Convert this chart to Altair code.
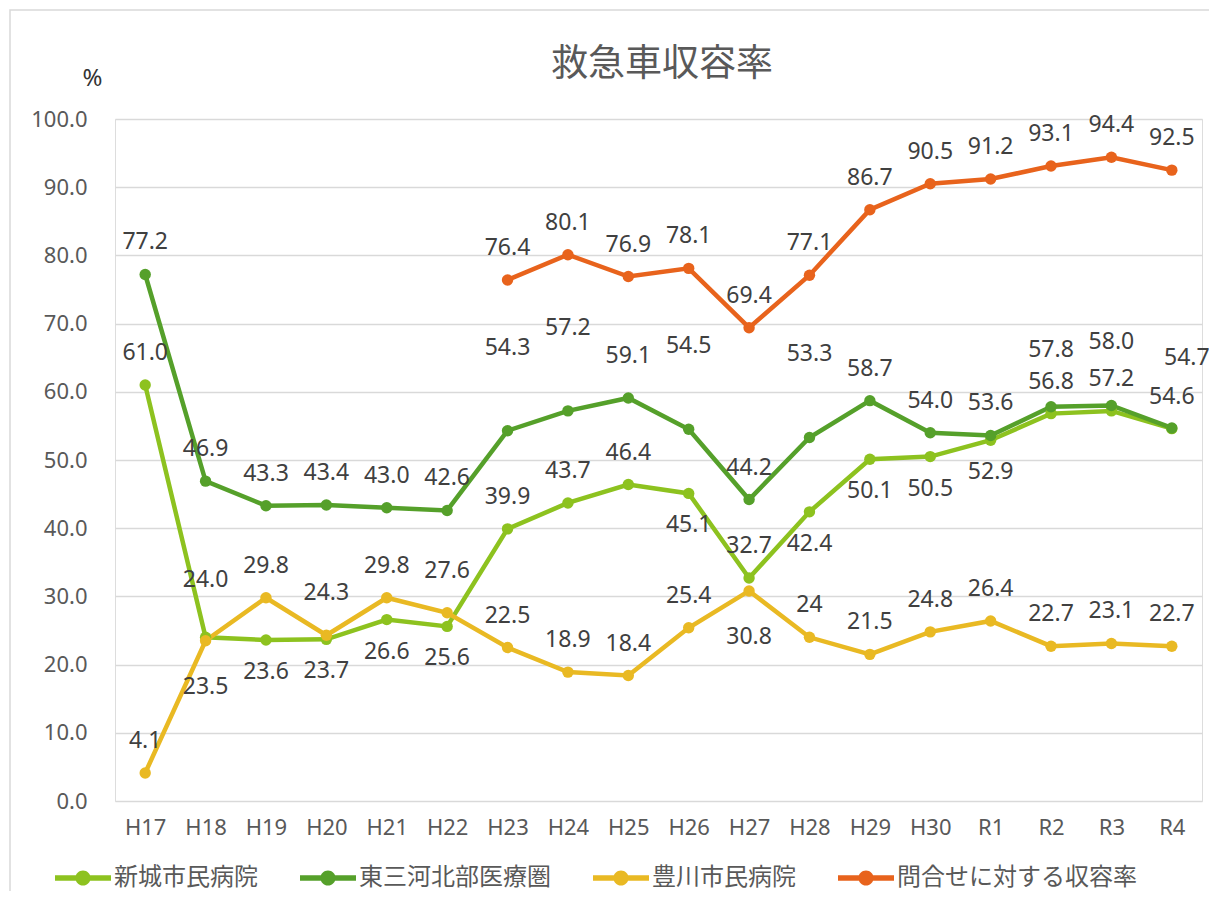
import altair as alt
import pandas as pd

categories = ["H17", "H18", "H19", "H20", "H21", "H22", "H23", "H24", "H25",
              "H26", "H27", "H28", "H29", "H30", "R1", "R2", "R3", "R4"]

series_names = ["新城市民病院", "東三河北部医療圏", "豊川市民病院", "問合せに対する収容率"]

shinshiro = [61.0, 24.0, 23.6, 23.7, 26.6, 25.6, 39.9, 43.7, 46.4,
             45.1, 32.7, 42.4, 50.1, 50.5, 52.9, 56.8, 57.2, 54.6]
higashi_mikawa = [77.2, 46.9, 43.3, 43.4, 43.0, 42.6, 54.3, 57.2, 59.1,
                  54.5, 44.2, 53.3, 58.7, 54.0, 53.6, 57.8, 58.0, 54.7]
toyokawa = [4.1, 23.5, 29.8, 24.3, 29.8, 27.6, 22.5, 18.9, 18.4,
            25.4, 30.8, 24.0, 21.5, 24.8, 26.4, 22.7, 23.1, 22.7]
inquiry = [None, None, None, None, None, None, 76.4, 80.1, 76.9,
           78.1, 69.4, 77.1, 86.7, 90.5, 91.2, 93.1, 94.4, 92.5]

chart_title = "救急車収容率"

# label text exceptions as printed in the original
label_override = {("豊川市民病院", "H28"): "24"}

# data-label placement codes (style, not data)
shinshiro_pos = ["a", "m", "b", "b", "b", "b", "a", "a", "a",
                 "b", "a", "b", "b", "b", "b", "a", "a", "a"]
higashi_pos = ["a", "a", "a", "a", "a", "a", "A", "A", "h",
               "A", "a", "A", "a", "a", "a", "m", "M", "r"]
toyokawa_pos = ["a", "B", "a", "h", "a", "h", "a", "a", "a",
                "a", "B", "a", "a", "a", "a", "a", "a", "a"]
inquiry_pos = ["a"] * 18
offsets = {"a": (0, -32), "b": (0, 32), "B": (0, 46), "h": (0, -42),
           "m": (0, -57), "M": (0, -63), "A": (0, -83), "r": (15, -70)}

colors = ["#8DC21F", "#55A02A", "#E9B923", "#E8631C"]

rows = []
for name, col, vals, pos in zip(series_names, colors,
                                [shinshiro, higashi_mikawa, toyokawa, inquiry],
                                [shinshiro_pos, higashi_pos, toyokawa_pos, inquiry_pos]):
    for cat, v, p in zip(categories, vals, pos):
        if v is None:
            continue
        rows.append({"series": name, "hex": col, "cat": cat, "value": v, "pos": p,
                     "label": label_override.get((name, cat), f"{v:.1f}")})
df = pd.DataFrame(rows)

x_enc = alt.X("cat:N", sort=categories,
              scale=alt.Scale(domain=categories),
              axis=alt.Axis(title=None, labelAngle=0, ticks=False, domain=False,
                            grid=False, labelPadding=16, labelFont="Noto Sans",
                            labelFontSize=22, labelColor="#595959"))
y_enc = alt.Y("value:Q", scale=alt.Scale(domain=[0, 100], nice=False),
              axis=alt.Axis(values=list(range(0, 101, 10)), format=".1f",
                            ticks=False, domain=False, grid=True,
                            gridColor="#D9D9D9", gridWidth=1.5,
                            labelPadding=28, labelFont="Noto Sans",
                            labelFontSize=22, labelColor="#595959",
                            title="%", titleAngle=0, titleX=-23, titleY=-41,
                            titleAlign="center", titleBaseline="middle",
                            titleFont="Noto Sans", titleFontSize=24,
                            titleFontWeight="normal", titleColor="#333333"))

base = alt.Chart(df)

lines = base.mark_line(strokeWidth=4.5).encode(
    x=x_enc, y=y_enc,
    detail="series:N",
    stroke=alt.Stroke("hex:N", scale=None),
)

legend_symbol = ("M-1,-0.1L1,-0.1L1,0.1L-1,0.1Z "
                 "M0.27,0A0.27,0.27 0 1,1 -0.27,0A0.27,0.27 0 1,1 0.27,0Z")

points = base.mark_point(filled=True, size=130, opacity=1).encode(
    x=x_enc, y=y_enc,
    fill=alt.Fill("series:N", scale=alt.Scale(domain=series_names, range=colors),
                  legend=alt.Legend(title=None, orient="none", legendX=-60,
                                    legendY=731, direction="horizontal",
                                    symbolType=legend_symbol, symbolSize=3136,
                                    symbolStrokeWidth=0, symbolOpacity=1,
                                    labelFont="Noto Sans CJK JP",
                                    labelFontSize=24, labelColor="#595959",
                                    labelOffset=3, columnPadding=42,
                                    labelLimit=500)),
)

label_layers = []
for code, (dx, dy) in offsets.items():
    label_layers.append(
        base.transform_filter(alt.datum.pos == code)
        .mark_text(dx=dx, dy=dy, font="Noto Sans", fontSize=23,
                   color="#404040", baseline="middle", align="center")
        .encode(x=x_enc, y=y_enc, text="label:N")
    )

deco = alt.Data(values=[{"t": chart_title}])

frame = alt.Chart(deco).mark_rect(
    fillOpacity=0, stroke="#D9D9D9", strokeWidth=1.5
).encode(x=alt.value(-105), x2=alt.value(1300),
         y=alt.value(-109), y2=alt.value(900))

title = alt.Chart(deco).mark_text(
    font="Noto Sans CJK JP", fontSize=37, color="#595959",
    align="center", baseline="middle"
).encode(x=alt.value(547), y=alt.value(-54), text="t:N")

chart = alt.layer(frame, title, lines, points, *label_layers).properties(
    width=1087, height=682,
    autosize=alt.AutoSizeParams(type="none"),
    padding={"left": 107, "top": 111, "right": 7, "bottom": 90},
).configure_view(stroke=None).configure(background="white")

chart.save("out.html", embed_options={"renderer": "svg", "actions": False})
